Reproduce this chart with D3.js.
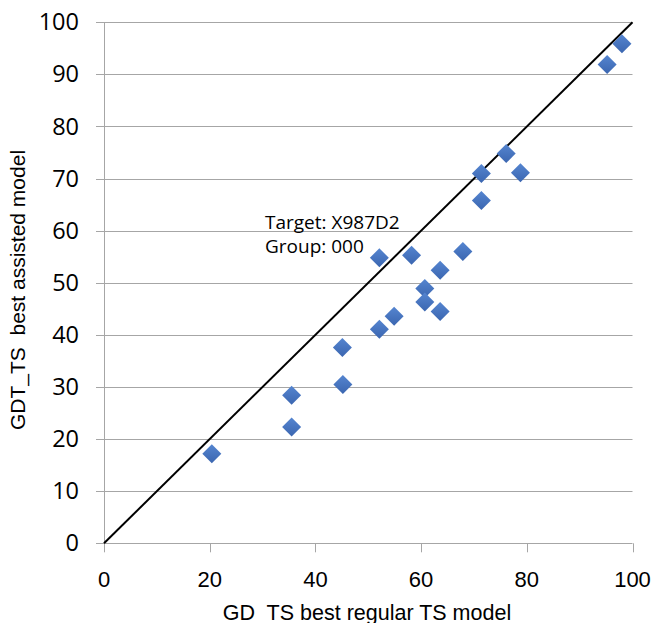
<!DOCTYPE html>
<html><head><meta charset="utf-8">
<script src="https://cdn.jsdelivr.net/npm/d3@7"></script>
<style>body{margin:0;background:#fff}svg{display:block}</style>
</head><body>
<script>
const xValues = [20.4, 35.5, 35.5, 45.2, 45.1, 52.1, 54.9, 52.1, 58.2, 60.7, 60.7, 63.6, 63.6, 67.9, 71.4, 71.4, 76.1, 78.8, 95.2, 98.0];
const yValues = [17.2, 22.3, 28.4, 30.5, 37.6, 41.1, 43.6, 54.8, 55.3, 48.9, 46.3, 44.5, 52.4, 56.0, 65.8, 71.0, 74.8, 71.1, 91.9, 95.9];
const xTicks = [0, 20, 40, 60, 80, 100];
const yTicks = [0, 10, 20, 30, 40, 50, 60, 70, 80, 90, 100];
const refLine = [0, 100];
const annotation = ["Target: X987D2", "Group: 000"];
const xTitle = "GD  TS best regular TS model";
const yTitle = "GDT_TS  best assisted model";

const W = 657, H = 623;
const svg = d3.select("body").append("svg").attr("width", W).attr("height", H);
const x = d3.scaleLinear().domain([0, 100]).range([104, 632.5]);
const y = d3.scaleLinear().domain([0, 100]).range([543.3, 22.3]);

// horizontal gridlines (with left tick)
svg.append("g").selectAll("line").data(yTicks).join("line")
  .attr("x1", 96).attr("x2", x(100))
  .attr("y1", d => Math.round(y(d)) + 0.5).attr("y2", d => Math.round(y(d)) + 0.5)
  .attr("stroke", "#a6a6a6").attr("stroke-width", 1);
// vertical axis line
svg.append("line").attr("x1", 104.5).attr("x2", 104.5).attr("y1", y(100)).attr("y2", y(0))
  .attr("stroke", "#a6a6a6");
// x ticks
svg.append("g").selectAll("line").data(xTicks).join("line")
  .attr("x1", d => Math.round(x(d)) + 0.5).attr("x2", d => Math.round(x(d)) + 0.5)
  .attr("y1", y(0)).attr("y2", y(0) + 9)
  .attr("stroke", "#a6a6a6");

// y tick labels
svg.append("g").selectAll("text").data(yTicks).join("text")
  .attr("x", 79).attr("y", d => y(d) + 8)
  .attr("text-anchor", "end")
  .attr("font-family", "'Open Sans', sans-serif").attr("font-size", 23.5)
  .attr("fill", "#000").text(d => d);
// x tick labels
svg.append("g").selectAll("text").data(xTicks).join("text")
  .attr("x", d => x(d)).attr("y", 587)
  .attr("text-anchor", "middle")
  .attr("font-family", "'Liberation Sans', Arial, sans-serif").attr("font-size", 22)
  .attr("fill", "#000").text(d => d);

// diagonal reference line
svg.append("line")
  .attr("x1", x(refLine[0])).attr("y1", y(refLine[0]))
  .attr("x2", x(refLine[1])).attr("y2", y(refLine[1]))
  .attr("stroke", "#000").attr("stroke-width", 2);

// diamonds
const defs = svg.append("defs");
const grad = defs.append("linearGradient").attr("id", "dg").attr("x1", 0).attr("y1", 0).attr("x2", 0).attr("y2", 1);
grad.append("stop").attr("offset", "0%").attr("stop-color", "#5585d0");
grad.append("stop").attr("offset", "100%").attr("stop-color", "#3b66b0");
const pts = xValues.map((v, i) => [v, yValues[i]]);
svg.append("g").selectAll("path").data(pts).join("path")
  .attr("transform", d => `translate(${x(d[0])},${y(d[1])})`)
  .attr("d", "M0,-9.5L9.5,0L0,9.5L-9.5,0Z")
  .attr("fill", "url(#dg)");

// annotation
svg.append("g").selectAll("text").data(annotation).join("text")
  .attr("x", 265).attr("y", (d, i) => 229 + i * 24)
  .attr("font-family", "'Open Sans', sans-serif").attr("font-size", 19)
  .attr("fill", "#000").text(d => d);

// axis titles
svg.append("text").attr("x", 367).attr("y", 620).attr("text-anchor", "middle")
  .attr("font-family", "'Liberation Sans', Arial, sans-serif").attr("font-size", 21.5)
  .attr("fill", "#000").style("white-space", "pre").text(xTitle);
svg.append("text").attr("transform", "translate(25,290) rotate(-90)").attr("text-anchor", "middle")
  .attr("font-family", "'Liberation Sans', Arial, sans-serif").attr("font-size", 21)
  .attr("fill", "#000").style("white-space", "pre").text(yTitle);
</script>
</body></html>
